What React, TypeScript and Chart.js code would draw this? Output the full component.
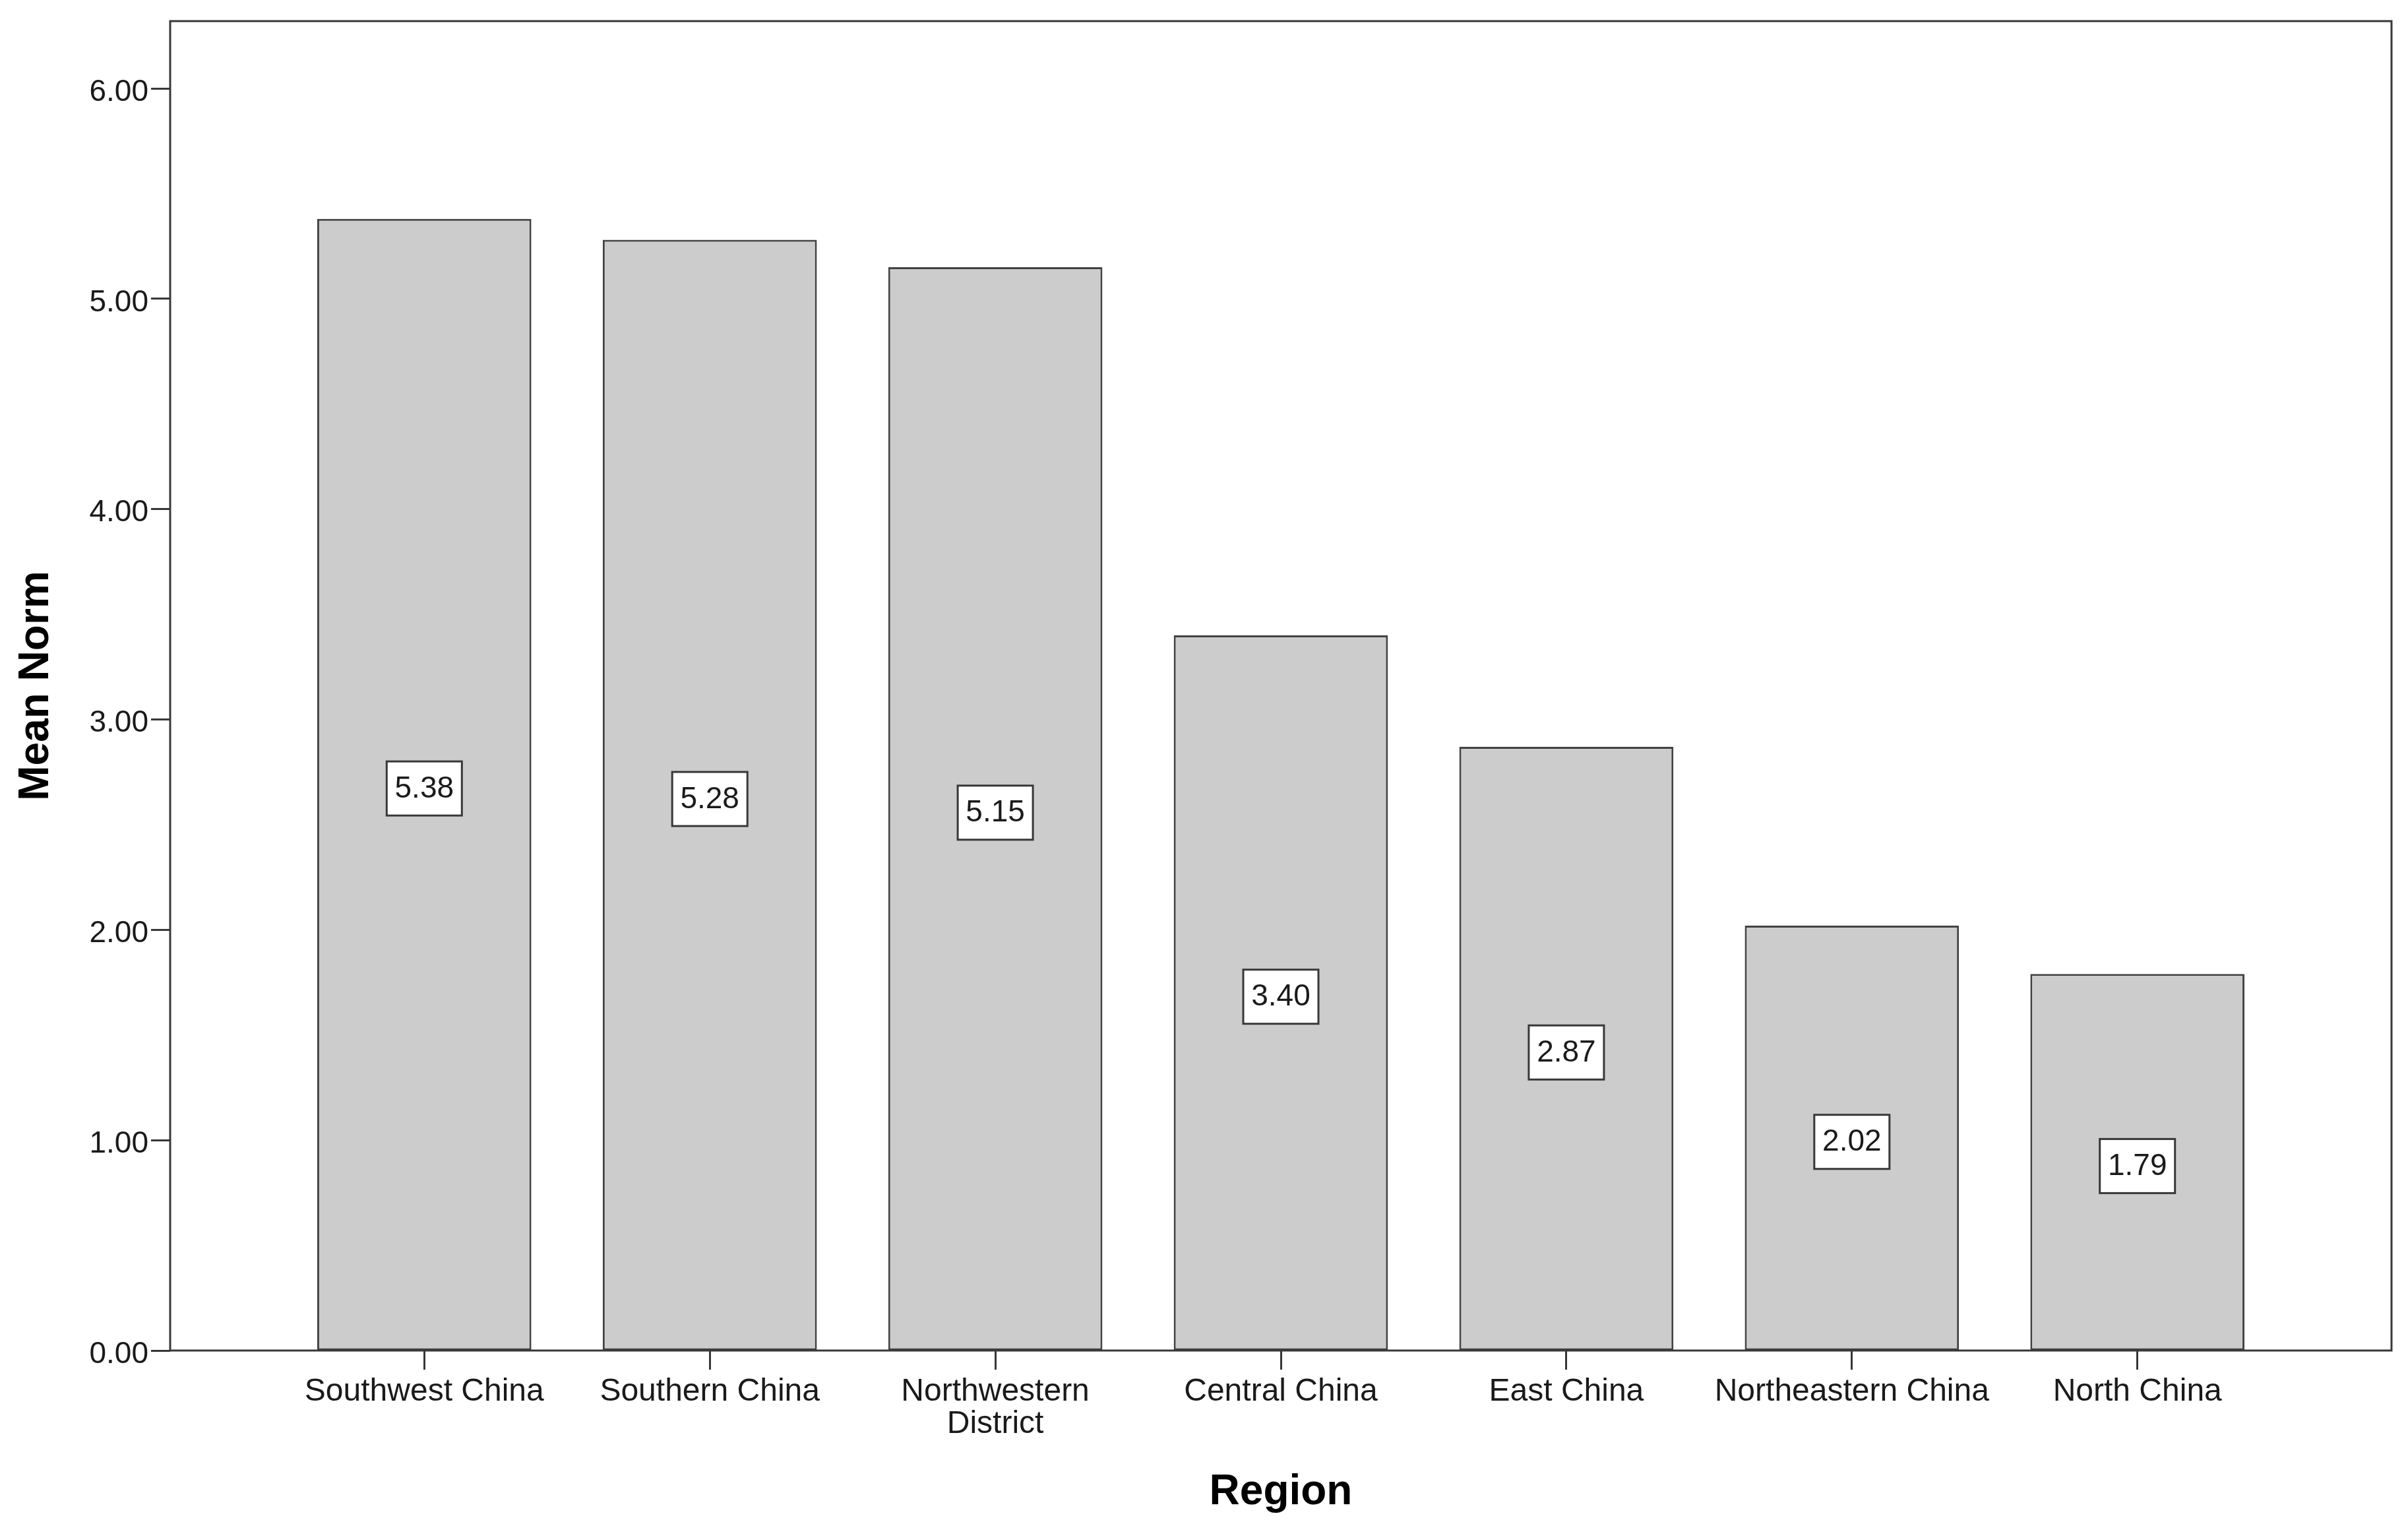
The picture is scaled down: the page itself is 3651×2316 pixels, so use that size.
import React, { useEffect, useRef } from 'react';
import { Chart, registerables } from 'chart.js';

Chart.register(...registerables);

// ---- data ----
const categories: (string | string[])[] = [
  'Southwest China',
  'Southern China',
  ['Northwestern', 'District'],
  'Central China',
  'East China',
  'Northeastern China',
  'North China',
];
const meanNorm = [5.38, 5.28, 5.15, 3.4, 2.87, 2.02, 1.79];
const yTicks = [0, 1, 2, 3, 4, 5, 6];
const yAxisTitle = 'Mean Norm';
const xAxisTitle = 'Region';

// ---- layout / style ----
const W = 3651;
const H = 2316;
const FONT = "'Liberation Sans', Arial, Helvetica, sans-serif";
const LINE = '#383838';
const TEXT = '#1a1a1a';

const frameAndLabels = {
  id: 'frameAndLabels',
  afterDatasetsDraw(chart: any) {
    const { ctx, chartArea } = chart;
    ctx.save();
    ctx.strokeStyle = LINE;
    ctx.lineWidth = 3;
    ctx.strokeRect(
      chartArea.left,
      chartArea.top,
      chartArea.right - chartArea.left,
      chartArea.bottom - chartArea.top
    );
    const meta = chart.getDatasetMeta(0);
    ctx.font = `46px ${FONT}`;
    ctx.textAlign = 'center';
    ctx.textBaseline = 'middle';
    meta.data.forEach((bar: any, i: number) => {
      const { x, y, base } = bar.getProps(['x', 'y', 'base'], true);
      const cy = (y + base) / 2 + 6;
      const w = 114;
      const h = 82;
      ctx.fillStyle = '#ffffff';
      ctx.fillRect(x - w / 2, cy - h / 2, w, h);
      ctx.lineWidth = 3;
      ctx.strokeStyle = LINE;
      ctx.strokeRect(x - w / 2, cy - h / 2, w, h);
      ctx.fillStyle = TEXT;
      ctx.fillText(meanNorm[i].toFixed(2), x, cy + 1);
    });
    ctx.restore();
  },
};

export default function App() {
  const ref = useRef<HTMLCanvasElement>(null);

  useEffect(() => {
    document.body.style.margin = '0';
    const canvas = ref.current;
    if (!canvas) return;
    const chart = new Chart(canvas, {
      type: 'bar',
      data: {
        datasets: [
          {
            data: meanNorm.map((v, i) => ({ x: i, y: v })),
            backgroundColor: '#cccccc',
            borderColor: '#424242',
            borderWidth: 3,
            borderSkipped: false,
            barPercentage: 0.75,
            categoryPercentage: 1,
          } as any,
        ],
      },
      options: {
        animation: false,
        responsive: false,
        maintainAspectRatio: false,
        devicePixelRatio: 1,
        layout: { padding: { top: 32, right: 25, left: 0, bottom: 0 } },
        plugins: {
          legend: { display: false },
          tooltip: { enabled: false },
        },
        scales: {
          x: {
            type: 'linear',
            min: -0.89,
            max: 6.89,
            offset: false,
            afterBuildTicks: (axis: any) => {
              axis.ticks = categories.map((_, i) => ({ value: i }));
            },
            afterFit: (s: any) => {
              s.height = H - 2047;
            },
            ticks: {
              callback: (v: any) => categories[Math.round(Number(v))],
              font: { family: FONT, size: 48, lineHeight: 1.02 },
              color: TEXT,
              padding: 9,
              maxRotation: 0,
              minRotation: 0,
              autoSkip: false,
            },
            grid: {
              offset: false,
              drawOnChartArea: false,
              drawTicks: true,
              tickLength: 29,
              tickWidth: 3,
              tickColor: LINE,
            },
            border: { display: false },
            title: {
              display: true,
              text: xAxisTitle,
              color: '#000',
              font: { family: FONT, size: 64, weight: 'bold', lineHeight: 1.2 },
              padding: { top: 0, bottom: 15 },
            },
          } as any,
          y: {
            type: 'linear',
            min: 0,
            max: 6.32,
            afterBuildTicks: (axis: any) => {
              axis.ticks = yTicks.map((v) => ({ value: v }));
            },
            afterFit: (s: any) => {
              s.width = 258;
            },
            ticks: {
              callback: (v: any) => Number(v).toFixed(2),
              font: { family: FONT, size: 46 },
              color: TEXT,
              padding: 4,
              labelOffset: 6,
            },
            grid: {
              offset: false,
              drawOnChartArea: false,
              drawTicks: true,
              tickLength: 29,
              tickWidth: 3,
              tickColor: LINE,
            },
            border: { display: false },
            title: {
              display: true,
              text: yAxisTitle,
              color: '#000',
              font: { family: FONT, size: 64, weight: 'bold', lineHeight: 1.2 },
              padding: { top: 17, bottom: 0 },
            },
          } as any,
        },
      },
      plugins: [frameAndLabels],
    });
    return () => chart.destroy();
  }, []);

  return (
    <canvas
      ref={ref}
      width={W}
      height={H}
      style={{ display: 'block', width: W, height: H }}
    />
  );
}
